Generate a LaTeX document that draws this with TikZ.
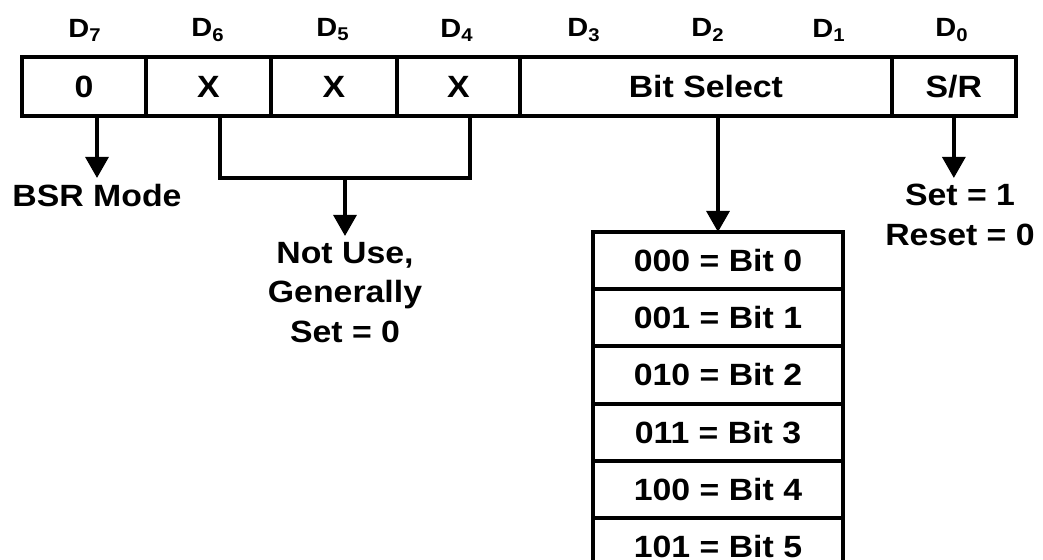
\documentclass[tikz,border=0pt]{standalone}
\usepackage{fontspec}
\setmainfont{Liberation Sans}[FakeStretch=1.1]
\usetikzlibrary{positioning,arrows.meta}

\tikzset{
  lbl/.style={font=\bfseries\fontsize{17.5}{22.5}\selectfont,align=center},
  dlbl/.style={font=\bfseries\fontsize{15}{18}\selectfont},
  cell/.style={lbl,draw,line width=2.2pt,minimum height=1.18cm,inner sep=0pt,outer sep=0pt},
  tblrow/.style={cell,minimum width=5cm,minimum height=1.144cm},
  wire/.style={line width=2.2pt},
  arr/.style={wire,-{Triangle[width=13pt,length=12pt]}}
}

\begin{document}
\begin{tikzpicture}[x=0.02cm,y=-0.02cm]
\useasboundingbox (0,0) rectangle (1043,560);
\clip (0,0) rectangle (1043,560);

% control word
\node[cell,minimum width=2.48cm] (c7) at (84,86.5) {0};
\node[cell,minimum width=2.5cm,right=0pt of c7] (c6) {X};
\node[cell,minimum width=2.52cm,right=0pt of c6] (c5) {X};
\node[cell,minimum width=2.46cm,right=0pt of c5] (c4) {X};
\node[cell,minimum width=7.44cm,right=0pt of c4] (c3) {Bit Select};
\node[cell,minimum width=2.48cm,right=0pt of c3] (c0) {S/R};

\node[dlbl] (d7) at (85,30) {D\textsubscript{7}};
\node[dlbl] (d6) at (208,30) {D\textsubscript{6}};
\node[dlbl] (d5) at (333,30) {D\textsubscript{5}};
\node[dlbl] (d4) at (457,30) {D\textsubscript{4}};
\node[dlbl] (d3) at (584,30) {D\textsubscript{3}};
\node[dlbl] (d2) at (708,30) {D\textsubscript{2}};
\node[dlbl] (d1) at (829,30) {D\textsubscript{1}};
\node[dlbl] (d0) at (952,30) {D\textsubscript{0}};

% D7
\node[lbl,anchor=north] (bsr) at (97,178) {BSR Mode};
\draw[arr] (bsr.north |- c7.south) -- (bsr.north);

% D6-D4
\node[lbl,anchor=north] (notuse) at (345,236) {Not Use,\\Generally\\Set = 0};
\coordinate (jn) at (345,178);
\draw[wire] ([xshift=0.23cm]c6.south) |- (jn) -| ([xshift=0.23cm]c4.south);
\draw[arr] (jn) -- (notuse.north);

% D3-D1
\foreach \b [count=\i from 0] in {000,001,010,011,100,101}
  \node[tblrow] (r\i) at (718,260.6+57.2*\i) {\b\ = Bit \i};
\draw[arr] (c3.south -| r0.north) -- (r0.north);

% D0
\node[lbl,anchor=north] (setr) at (960,178) {Set = 1\\Reset = 0};
\draw[arr] (c0.south) -- (c0.south |- setr.north);

\end{tikzpicture}
\end{document}
